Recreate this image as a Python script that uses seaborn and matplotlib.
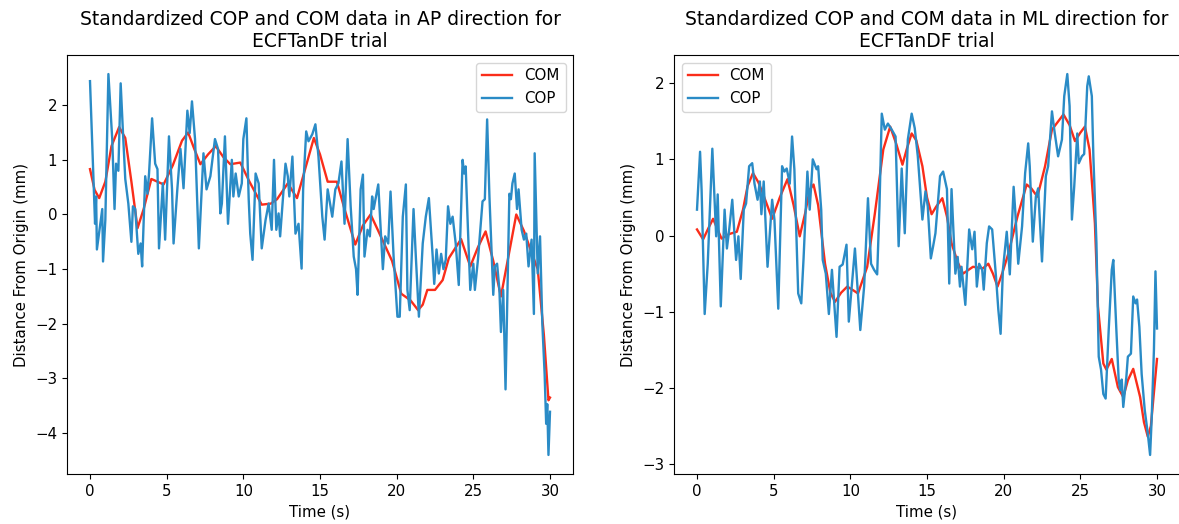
import matplotlib
matplotlib.use("Agg")
import matplotlib.pyplot as plt
import seaborn as sns
import pandas as pd

# ---------------- AP direction ----------------
ap_com_t = [0.0, 0.3, 0.6, 1.0, 1.4, 1.9, 2.3, 2.7, 3.1, 3.5, 4.0, 4.8, 5.4, 6.0, 6.4, 6.8,
            7.2, 7.7, 8.2, 8.7, 9.15, 9.8, 10.4, 11.2, 11.8, 12.2, 12.9, 13.5, 14.0, 14.6,
            15.0, 15.5, 16.1, 16.6, 17.3, 17.8, 18.3, 18.8, 19.7, 20.3, 20.9, 21.4, 21.7,
            22.0, 22.5, 23.0, 23.4, 24.2, 24.8, 25.3, 25.8, 26.3, 26.8, 27.2, 27.8, 28.3,
            28.8, 29.2, 29.6, 29.9, 30.0]
ap_com_v = [0.83, 0.45, 0.3, 0.6, 1.25, 1.6, 1.4, 0.6, -0.25, 0.1, 0.65, 0.55, 0.9, 1.35, 1.5, 1.2,
            0.92, 1.1, 1.25, 1.05, 0.92, 0.95, 0.6, 0.18, 0.2, 0.28, 0.57, 0.3, 0.8, 1.4,
            1.1, 0.6, 0.6, 0.1, -0.55, -0.2, 0.0, -0.3, -0.85, -1.45, -1.57, -1.75, -1.65,
            -1.38, -1.38, -1.2, -0.8, -0.45, -0.95, -0.6, -0.31, -0.85, -1.5, -0.9, 0.0, -0.3,
            -0.7, -1.0, -2.2, -3.4, -3.35]

ap_cop_t = [0.0, 0.33, 0.4, 0.45, 0.8, 0.85, 1.0, 1.2, 1.45, 1.6, 1.7, 1.85, 2.0, 2.15, 2.3, 2.5,
            2.7, 2.8, 2.95, 3.15, 3.3, 3.4, 3.6, 3.75, 3.85, 4.05, 4.25, 4.4, 4.5, 4.75, 4.9,
            5.15, 5.35, 5.45, 5.7, 5.9, 6.1, 6.35, 6.5, 6.65, 6.85, 7.1, 7.4, 7.6, 7.85, 8.15,
            8.35, 8.5, 8.6, 8.8, 9.0, 9.25, 9.35, 9.5, 9.7, 9.9, 10.0, 10.2, 10.35, 10.45, 10.6,
            10.8, 11.0, 11.2, 11.45, 11.65, 11.85, 12.0, 12.15, 12.3, 12.4, 12.75, 12.9, 13.0,
            13.2, 13.4, 13.6, 13.8, 13.9, 14.1, 14.25, 14.5, 14.7, 14.9, 15.15, 15.3, 15.5,
            15.8, 16.0, 16.2, 16.4, 16.6, 16.8, 17.0, 17.2, 17.35, 17.45, 17.65, 17.8, 17.9,
            18.1, 18.25, 18.4, 18.5, 18.65, 18.8, 19.0, 19.1, 19.25, 19.45, 19.6, 19.8, 20.05,
            20.2, 20.4, 20.6, 20.7, 20.85, 21.1, 21.25, 21.45, 21.7, 21.9, 22.1, 22.35, 22.45,
            22.6, 22.75, 22.9, 23.05, 23.2, 23.35, 23.5, 23.65, 23.85, 24.05, 24.3, 24.4, 24.5,
            24.65, 24.8, 25.0, 25.1, 25.3, 25.6, 25.75, 25.9, 26.05, 26.3, 26.4, 26.55, 26.7,
            26.8, 26.95, 27.1, 27.25, 27.35, 27.45, 27.55, 27.7, 27.85, 27.95, 28.15, 28.3,
            28.45, 28.6, 28.8, 28.95, 29.0, 29.2, 29.35, 29.5, 29.65, 29.75, 29.82, 29.9, 30.0]
ap_cop_v = [2.44, -0.17, 0.33, -0.64, 0.1, -0.86, -0.1, 2.57, 1.38, 0.1, 0.93, 0.8, 2.4, 1.5, 0.65, 0.2,
            -0.5, 0.15, 0.1, -0.72, -0.53, -0.95, 0.7, 0.38, 0.75, 1.76, 0.93, 0.83, -0.62, 0.57, -0.46,
            1.43, 0.46, -0.53, 0.48, 1.2, 0.48, 1.9, 1.49, 2.07, 1.38, -0.62, 1.12, 0.46, 0.7, 1.38,
            1.2, 0.02, 0.2, 1.43, -0.17, 1.0, 0.33, 0.75, 0.33, 0.57, 1.38, 1.76, 0.28, -0.35, -0.83,
            0.75, 0.57, -0.62, -0.1, 0.2, -0.28, 1.0, -0.28, 0.02, -0.4, 0.93, 0.7, 0.33,
            1.06, -0.35, -0.17, -0.99, 0.46, 1.52, 1.34, 1.47, 1.65, 1.06, -0.04, -0.46, 0.46,
            -0.04, 0.46, 0.57, 0.97, -0.17, 1.38, 0.15, -0.77, -1.0, -1.47, 0.46, 0.73, -0.77,
            -0.28, -0.4, 0.33, 0.1, 0.33, 0.55, -0.46, -1.0, -0.4, -0.53, 0.42, -0.77, -1.87,
            -1.87, -0.04, 0.55, -1.38, -1.75, 0.1, -0.77, -1.87, -0.53, -0.04, 0.3, -0.77, -1.27,
            -0.64, -1.08, -0.72, -1.0, -0.83, 0.15, -0.17, -0.04, -0.53, -1.29, 1.0, 0.75, 0.88,
            -0.28, -1.38, -0.9, -1.38, -0.83, 0.24, 0.28, 1.74, 0.33, -1.47, -0.95, -0.9, -1.38,
            -2.15, -1.38, -3.2, -1.08, 0.38, 0.28, 0.57, 0.75, 0.1, 0.46, -0.28, -0.46,
            -0.35, -0.95, -0.46, -1.82, 1.12, -1.08, -0.4, -2.0, -2.92, -3.83, -3.47, -4.4, -3.61]

# ---------------- ML direction ----------------
ml_com_t = [0.0, 0.4, 0.75, 1.05, 1.3, 1.6, 2.1, 2.6, 3.0, 3.3, 3.65, 4.0, 4.3, 4.9, 5.4, 5.9,
            6.3, 6.7, 7.05, 7.35, 7.6, 7.9, 8.35, 8.7, 9.0, 9.4, 9.8, 10.2, 10.5, 11.1, 11.6,
            12.15, 12.6, 13.0, 13.4, 13.7, 14.0, 14.3, 14.7, 15.0, 15.3, 15.6, 16.0, 16.3,
            16.6, 17.0, 17.35, 18.0, 18.65, 19.0, 19.3, 19.6, 19.9, 20.3, 20.9, 21.5, 21.8,
            22.2, 22.7, 23.15, 23.9, 24.3, 24.65, 25.0, 25.3, 25.6, 25.95, 26.15, 26.5, 26.7,
            27.05, 27.45, 27.8, 28.1, 28.45, 28.9, 29.15, 29.4, 29.6, 30.0]
ml_com_v = [0.08, -0.05, 0.1, 0.22, 0.1, -0.04, 0.02, 0.05, 0.34, 0.65, 0.82, 0.7, 0.55, 0.22, 0.5, 0.74,
            0.4, -0.01, 0.29, 0.6, 0.67, 0.4, -0.37, -0.75, -0.87, -0.75, -0.67, -0.72, -0.76, -0.41, 0.29,
            1.13, 1.43, 1.2, 0.93, 1.15, 1.34, 1.25, 0.91, 0.5, 0.28, 0.38, 0.49, 0.25,
            -0.1, -0.35, -0.5, -0.41, -0.43, -0.37, -0.5, -0.67, -0.5, -0.24, 0.25, 0.67, 0.62,
            0.51, 0.91, 1.39, 1.59, 1.45, 1.24, 1.35, 1.43, 1.13, 0.16, -0.93, -1.68, -1.76,
            -1.62, -1.99, -2.12, -1.9, -1.75, -2.12, -2.45, -2.64, -2.5, -1.62]

ml_cop_t = [0.0, 0.2, 0.3, 0.5, 0.7, 1.0, 1.25, 1.35, 1.55, 1.8, 1.95, 2.1, 2.3, 2.55, 2.7, 2.85,
            3.05, 3.2, 3.4, 3.6, 3.75, 3.95, 4.1, 4.2, 4.35, 4.6, 4.9, 5.05, 5.3, 5.55, 5.7, 5.85,
            6.05, 6.2, 6.35, 6.6, 6.8, 6.95, 7.2, 7.35, 7.55, 7.8, 7.9, 8.1, 8.2, 8.4, 8.6, 8.8,
            9.1, 9.3, 9.5, 9.75, 9.9, 10.3, 10.65, 10.9, 11.15, 11.35, 11.55, 11.75, 11.9, 12.05,
            12.25, 12.45, 12.7, 12.95, 13.15, 13.35, 13.55, 13.75, 14.0, 14.2, 14.4, 14.7, 14.9,
            15.05, 15.25, 15.4, 15.55, 15.85, 16.05, 16.3, 16.45, 16.6, 16.85, 17.0, 17.15, 17.25,
            17.5, 17.75, 17.95, 18.1, 18.25, 18.4, 18.6, 18.7, 18.9, 19.05, 19.25, 19.5, 19.65,
            19.8, 19.95, 20.2, 20.4, 20.65, 20.75, 20.95, 21.2, 21.4, 21.6, 21.7, 21.9, 22.1,
            22.25, 22.5, 22.75, 22.9, 23.15, 23.3, 23.55, 23.8, 23.95, 24.15, 24.3, 24.45, 24.6,
            24.8, 24.9, 25.1, 25.25, 25.45, 25.55, 25.75, 25.85, 26.05, 26.2, 26.35, 26.5, 26.65,
            26.85, 27.05, 27.15, 27.35, 27.5, 27.6, 27.7, 27.8, 28.0, 28.1, 28.3, 28.45, 28.6,
            28.7, 28.85, 29.0, 29.2, 29.4, 29.55, 29.65, 29.8, 29.9, 30.0]
ml_cop_v = [0.34, 1.1, 0.6, -1.03, -0.37, 1.14, -0.01, 0.54, -0.93, 0.34, -0.17, 0.08, 0.47, -0.32, -0.01, -0.57,
            0.34, 0.42, 0.91, 0.95, 0.68, 0.47, 0.71, 0.28, 0.71, -0.41, 0.47, 0.21, -0.96, 0.91, 0.84, 0.88,
            0.68, 1.3, 0.87, -0.76, -0.89, -0.3, 0.84, 0.34, 1.0, 0.87, 0.91, 0.34, -0.32, -0.5, -1.03, -0.45,
            -1.33, -0.41, -0.38, -0.12, -1.13, -0.17, -1.24, -0.67, 0.49, -0.37, -0.45, -0.51, 0.38, 1.6,
            1.39, 1.47, 1.39, 1.3, -0.14, 0.88, 0.03, 1.26, 1.6, 1.41, 1.04, 0.21, 0.58,
            0.38, -0.3, -0.14, 0.03, 0.78, 0.84, 0.61, -0.63, 0.61, -0.5, -0.28, -0.67, -0.41,
            -0.91, 0.08, -0.18, 0.05, -0.67, -0.37, -0.45, -0.71, -0.1, 0.12, 0.08, -0.54, -0.97,
            -1.29, -0.45, 0.05, -0.51, 0.64, 0.34, -0.37, 0.12, 0.82, 1.21, 0.91, -0.08, 0.51,
            0.62, -0.34, 0.78, 0.91, 1.63, 1.39, 1.04, 1.26, 1.83, 2.12, 1.7, 0.21, 0.64,
            1.34, 0.95, 1.04, 1.07, 1.96, 2.09, 1.83, 1.04, -0.1, -1.59, -1.76, -2.08, -2.14,
            -1.24, -0.45, -0.32, -1.24, -1.89, -2.03, -1.89, -2.25, -1.86, -1.59, -1.55, -0.8, -0.89,
            -0.84, -1.2, -1.82, -2.29, -2.6, -2.88, -2.42, -1.5, -0.47, -1.22]

titles = ["Standardized COP and COM data in AP direction for\nECFTanDF trial",
          "Standardized COP and COM data in ML direction for\nECFTanDF trial"]
x_label = "Time (s)"
y_label = "Distance From Origin (mm)"
series_names = ["COM", "COP"]

COM_COLOR = "#fa2d1a"
COP_COLOR = "#2a8bc6"

fig = plt.figure(figsize=(11.79, 5.24), dpi=100)
ax1 = fig.add_axes([67 / 1179, 1 - 474 / 524, 506 / 1179, 419 / 524])
ax2 = fig.add_axes([674 / 1179, 1 - 474 / 524, 506 / 1179, 419 / 524])

panels = [
    (ax1, ap_com_t, ap_com_v, ap_cop_t, ap_cop_v, "upper right"),
    (ax2, ml_com_t, ml_com_v, ml_cop_t, ml_cop_v, "upper left"),
]

FS = 10.8
for i, (ax, ct, cv, pt, pv, loc) in enumerate(panels):
    com_df = pd.DataFrame({"t": ct, "v": cv})
    cop_df = pd.DataFrame({"t": pt, "v": pv})
    sns.lineplot(data=com_df, x="t", y="v", ax=ax, color=COM_COLOR, linewidth=1.7,
                 label=series_names[0], sort=False, estimator=None)
    sns.lineplot(data=cop_df, x="t", y="v", ax=ax, color=COP_COLOR, linewidth=1.7,
                 label=series_names[1], sort=False, estimator=None)
    ax.set_title(titles[i], fontsize=13.5)
    ax.set_xlabel(x_label, fontsize=FS)
    ax.set_ylabel(y_label, fontsize=FS)
    ax.set_xticks([0, 5, 10, 15, 20, 25, 30])
    ax.tick_params(labelsize=FS)
    ax.legend(loc=loc, fontsize=FS)

fig.savefig("out.png", dpi=100)
